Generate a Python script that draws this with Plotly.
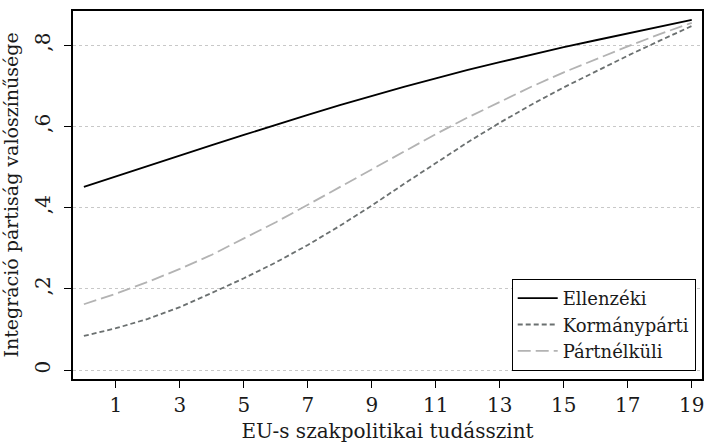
import plotly.graph_objects as go

x_vals = list(range(0, 20))
ellenzeki = [0.451, 0.477, 0.503, 0.529, 0.554, 0.579, 0.604, 0.628, 0.652, 0.675,
             0.697, 0.718, 0.739, 0.758, 0.777, 0.795, 0.812, 0.829, 0.846, 0.862]
kormanyparti = [0.084, 0.103, 0.126, 0.155, 0.19, 0.226, 0.265, 0.308, 0.355, 0.405,
                0.458, 0.51, 0.561, 0.609, 0.654, 0.696, 0.736, 0.774, 0.811, 0.847]
partnelkuli = [0.162, 0.188, 0.217, 0.249, 0.284, 0.323, 0.364, 0.407, 0.451, 0.495,
               0.539, 0.581, 0.622, 0.661, 0.698, 0.733, 0.766, 0.797, 0.827, 0.855]

x_ticks = [1, 3, 5, 7, 9, 11, 13, 15, 17, 19]
y_ticks = [0, 0.2, 0.4, 0.6, 0.8]
y_ticktext = ["0", ",2", ",4", ",6", ",8"]

FONT = "DejaVu Serif"
TXT = "#1a1a1a"

fig = go.Figure()
fig.add_trace(go.Scatter(x=x_vals, y=ellenzeki, mode="lines", name="Ellenzéki",
                         line=dict(color="#000000", width=1.8)))
fig.add_trace(go.Scatter(x=x_vals, y=kormanyparti, mode="lines", name="Kormánypárti",
                         line=dict(color="#6b7070", width=1.8, dash="5px,3px")))
fig.add_trace(go.Scatter(x=x_vals, y=partnelkuli, mode="lines", name="Pártnélküli",
                         line=dict(color="#b3b3b3", width=1.8, dash="13px,5px")))

fig.update_layout(
    width=705, height=443,
    margin=dict(l=73, r=1, t=11, b=64),
    paper_bgcolor="white", plot_bgcolor="white",
    font=dict(family=FONT, size=20, color=TXT),
    showlegend=True,
    legend=dict(x=0.99, y=0.022, xanchor="right", yanchor="bottom",
                bordercolor="#000000", borderwidth=1, bgcolor="white",
                font=dict(family=FONT, size=18, color=TXT),
                tracegroupgap=0, itemwidth=40),
    xaxis=dict(range=[-0.34, 19.32], tickvals=x_ticks, ticks="outside", ticklen=7,
               tickcolor="#000000", showgrid=False, zeroline=False,
               showline=True, linecolor="#000000", linewidth=1.5, mirror=True,
               title=dict(text="EU-s szakpolitikai tudásszint", font=dict(size=20), standoff=11)),
    yaxis=dict(range=[-0.022, 0.884], tickvals=y_ticks, ticktext=y_ticktext, tickangle=-90,
               ticks="outside", ticklen=7, tickcolor="#000000", ticklabelstandoff=6,
               showgrid=True, gridcolor="#c8c8c8", griddash="dot", gridwidth=1,
               zeroline=False, showline=True, linecolor="#000000", linewidth=1.5, mirror=True,
               title=dict(text="Integráció pártiság valószínűsége", font=dict(size=19), standoff=8)),
)

fig.write_html("out.html",
               config={"displayModeBar": False},
               post_script="document.body.style.margin='0';document.body.style.overflow='hidden';")
